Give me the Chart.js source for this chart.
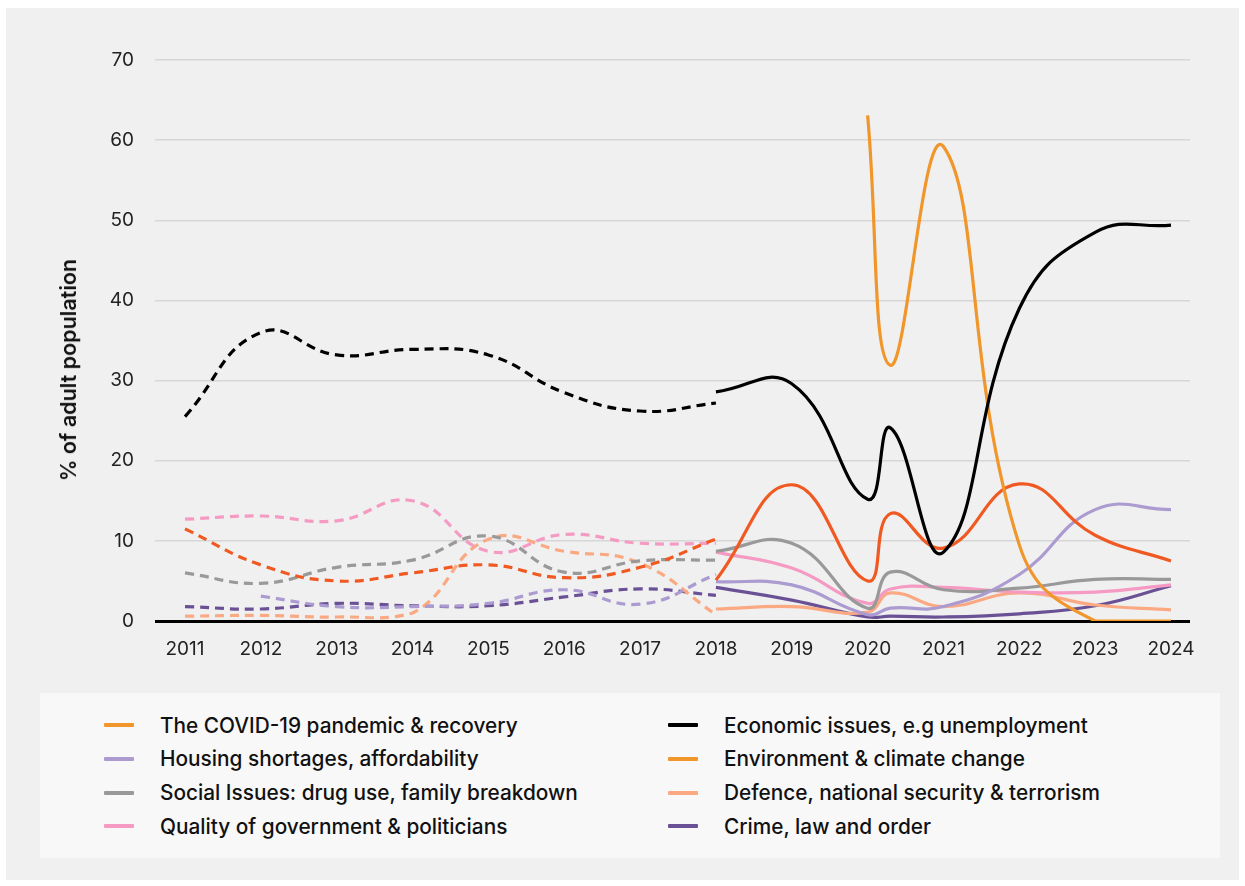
<!DOCTYPE html>
<html>
<head>
<meta charset="utf-8">
<script src="https://cdn.jsdelivr.net/npm/chart.js@4"></script>
<style>
  body { margin:0; width:1245px; height:886px; background:#ffffff; font-family:Inter, "Noto Sans", sans-serif; }
  #panel { position:absolute; left:6px; top:8px; width:1233px; height:872px; background:#f0f0f0; }
  #chartBox { position:absolute; left:0; top:0; width:1233px; height:680px; }
  #yTitle { position:absolute; left:62px; top:362px; transform:translate(-50%,-50%) rotate(-90deg);
    white-space:nowrap; font-size:21.5px; font-weight:600; color:#111; }
  #legend { position:absolute; left:34px; top:685px; width:1180px; height:165px; background:#f8f8f8; }
  .item { position:absolute; height:24px; display:flex; align-items:center; font-size:20.8px; font-weight:500; color:#111; white-space:nowrap; }
  .mark { width:30px; height:4px; margin-right:26px; border-radius:1px; }
</style>
</head>
<body>
<div id="panel">
  <div id="chartBox"><canvas id="chartCanvas"></canvas></div>
  <div id="yTitle">% of adult population</div>
  <div id="legend"></div>
</div>
<script>
// years
const dashYears = [2011, 2012, 2013, 2014, 2015, 2016, 2017, 2018]
const housingDashYears = [2012, 2013, 2014, 2015, 2016, 2017, 2018]
const solidYears = [2018, 2019, 2020, 2020.3, 2021, 2022, 2023, 2024]
const covidYears = [2020, 2020.3, 2021, 2022, 2023, 2024]
const tickYears = [2011, 2012, 2013, 2014, 2015, 2016, 2017, 2018, 2019, 2020, 2021, 2022, 2023, 2024]
const yTicks = [0, 10, 20, 30, 40, 50, 60, 70]

// values (% of adult population)
const covid = [63.1, 31.9, 59.2, 9.5, 0, 0]

const economicDash = [25.5, 36.0, 33.2, 33.9, 33.2, 28.5, 26.2, 27.2]
const economic = [28.6, 29.6, 15.2, 24.1, 8.6, 39.0, 48.5, 49.4]

const environmentDash = [11.5, 7.0, 5.0, 6.0, 7.0, 5.4, 6.7, 10.2]
const environment = [5.1, 17.0, 5.0, 13.4, 9.1, 17.1, 10.7, 7.5]

const socialDash = [6.0, 4.7, 6.7, 7.6, 10.6, 6.1, 7.5, 7.6]
const social = [8.7, 9.7, 1.6, 6.1, 3.9, 4.1, 5.2, 5.2]

const qualityDash = [12.7, 13.1, 12.5, 15.0, 8.7, 10.8, 9.7, 9.7]
const quality = [8.6, 6.6, 2.2, 4.0, 4.2, 3.6, 3.6, 4.5]

const housingDash = [3.1, 1.8, 1.8, 2.2, 3.9, 2.1, 5.8]
const housing = [4.9, 4.5, 0.8, 1.6, 1.8, 5.8, 13.9, 13.9]

const defenceDash = [0.6, 0.7, 0.5, 1.0, 10.2, 8.7, 7.2, 0.8]
const defence = [1.5, 1.8, 1.1, 3.5, 1.8, 3.5, 2.0, 1.4]

const crimeDash = [1.8, 1.5, 2.2, 1.9, 1.9, 3.0, 4.0, 3.2]
const crime = [4.2, 2.6, 0.5, 0.6, 0.5, 0.9, 1.9, 4.4]

const colors = {
    covid:"#f0962a", economic:"#000000", environment:"#f05a22", social:"#999999",
    quality:"#f59ac3", housing:"#ab9bd0", defence:"#fba983", crime:"#6a5195"
}

function pts(xs, ys){
    return xs.map((x, i) => ({x:x, y:ys[i]}))
}

function line(label, xs, ys, color, dashed){
    return {
        label:label,
        data:pts(xs, ys),
        borderColor:color,
        borderWidth:3.2,
        borderDash:dashed ? [9, 6] : [],
        pointRadius:0,
        tension:0.45,
        fill:false
    }
}

const datasets = [
    line("Economic issues, e.g unemployment", solidYears, economic, colors.economic, false),
    line("Economic dash", dashYears, economicDash, colors.economic, true),
    line("The COVID-19 pandemic & recovery", covidYears, covid, colors.covid, false),
    line("Environment & climate change", solidYears, environment, colors.environment, false),
    line("Environment dash", dashYears, environmentDash, colors.environment, true),
    line("Housing shortages, affordability", solidYears, housing, colors.housing, false),
    line("Housing dash", housingDashYears, housingDash, colors.housing, true),
    line("Social Issues: drug use, family breakdown", solidYears, social, colors.social, false),
    line("Social dash", dashYears, socialDash, colors.social, true),
    line("Quality of government & politicians", solidYears, quality, colors.quality, false),
    line("Quality dash", dashYears, qualityDash, colors.quality, true),
    line("Defence, national security & terrorism", solidYears, defence, colors.defence, false),
    line("Defence dash", dashYears, defenceDash, colors.defence, true),
    line("Crime, law and order", solidYears, crime, colors.crime, false),
    line("Crime dash", dashYears, crimeDash, colors.crime, true)
]

const ctx = document.getElementById("chartCanvas")

new Chart(ctx, {
    type:"line",
    data:{ datasets:datasets },
    options:{
        responsive:true,
        maintainAspectRatio:false,
        animation:false,
        layout:{ padding:{ top:52, right:49, left:0, bottom:0 } },
        plugins:{ legend:{ display:false }, tooltip:{ enabled:false } },
        scales:{
            x:{
                type:"linear",
                min:2010.6045,
                max:2024.2505,
                afterBuildTicks:s => { s.ticks = tickYears.map(v => ({value:v})) },
                afterFit:s => { s.height = 67 },
                grid:{ display:false, drawTicks:false },
                border:{ display:false },
                ticks:{
                    padding:17,
                    color:"#222",
                    font:{ family:"Inter", size:19 },
                    callback:v => String(v)
                }
            },
            y:{
                min:0,
                max:70,
                afterBuildTicks:s => { s.ticks = yTicks.map(v => ({value:v})) },
                afterFit:s => { s.width = 149 },
                grid:{
                    drawTicks:false,
                    color:c => c.tick.value === 0 ? "#000" : "#d6d6d6",
                    lineWidth:c => c.tick.value === 0 ? 3 : 1.5
                },
                border:{ display:false },
                ticks:{
                    padding:21,
                    color:"#222",
                    font:{ family:"Inter", size:19 }
                }
            }
        }
    }
})

// legend in two columns
const legendItems = [
    ["The COVID-19 pandemic & recovery", colors.covid],
    ["Housing shortages, affordability", colors.housing],
    ["Social Issues: drug use, family breakdown", colors.social],
    ["Quality of government & politicians", colors.quality],
    ["Economic issues, e.g unemployment", colors.economic],
    ["Environment & climate change", colors.covid],
    ["Defence, national security & terrorism", colors.defence],
    ["Crime, law and order", colors.crime]
]

const legend = document.getElementById("legend")
legendItems.forEach((it, i) => {
    const col = Math.floor(i / 4)
    const row = i % 4
    const d = document.createElement("div")
    d.className = "item"
    d.style.left = (col === 0 ? 64 : 628) + "px"
    d.style.top = (20 + row * 33.8) + "px"
    d.innerHTML = '<span class="mark" style="background:' + it[1] + '"></span>'
    d.appendChild(document.createTextNode(it[0]))
    legend.appendChild(d)
})
</script>
</body>
</html>
